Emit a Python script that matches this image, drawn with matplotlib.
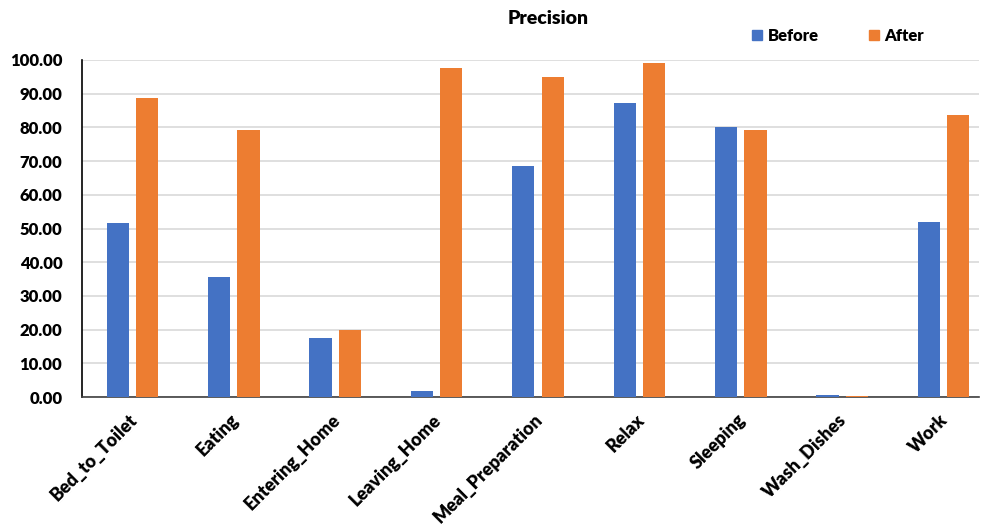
import numpy as np
import matplotlib.pyplot as plt
import matplotlib.transforms as mtransforms
from matplotlib.patches import Patch

plt.rcParams['font.family'] = ['Lato', 'DejaVu Sans']
plt.rcParams['font.weight'] = 'heavy'

activities = ['Bed_to_Toilet', 'Eating', 'Entering_Home', 'Leaving_Home',
              'Meal_Preparation', 'Relax', 'Sleeping', 'Wash_Dishes', 'Work']
before = [51.6, 35.6, 17.5, 1.8, 68.5, 87.2, 80.1, 0.5, 51.9]
after = [88.7, 79.2, 19.9, 97.6, 95.0, 99.1, 79.2, 0.4, 83.7]

blue = '#4472C4'
orange = '#ED7D31'

fig = plt.figure(figsize=(9.83, 5.26), dpi=100)
ax = fig.add_axes([81.8 / 983, 1 - 397 / 526, (979 - 81.8) / 983, 337 / 526])

x = np.arange(len(activities))
w = 0.22
off = 0.145
ax.bar(x - off, before, w, color=blue, zorder=3)
ax.bar(x + off, after, w, color=orange, zorder=3)

ax.set_xlim(-0.5, 8.35)
ax.set_ylim(0, 100)
ax.set_yticks(np.arange(0, 101, 10))
ax.set_yticklabels([f'{v:.2f}' for v in np.arange(0, 101, 10)], fontsize=12, fontweight='heavy')
ax.set_xticks(x)
ax.set_xticklabels(activities, rotation=45, ha='right', rotation_mode='anchor',
                   fontsize=13, fontweight='heavy')
ax.tick_params(axis='both', length=0)
ax.tick_params(axis='y', pad=14)
ax.tick_params(axis='x', pad=10)

# nudge rotated labels a little to the left
shift = mtransforms.ScaledTranslation(-4 / 100, 0, fig.dpi_scale_trans)
for lab in ax.get_xticklabels():
    lab.set_transform(lab.get_transform() + shift)

ax.grid(axis='y', color='#D9D9D9', linewidth=1.2, zorder=0)
for s in ['top', 'right']:
    ax.spines[s].set_visible(False)
ax.spines['left'].set_color('black')
ax.spines['left'].set_linewidth(1.2)
ax.spines['bottom'].set_color('#404040')
ax.spines['bottom'].set_linewidth(1.2)

fig.text(548 / 983, 1 - 19 / 526, 'Precision', ha='center', va='center',
         fontsize=14, fontweight='heavy')

handles = [Patch(color=blue, label='Before'), Patch(color=orange, label='After')]
fig.legend(handles=handles, loc='center left', bbox_to_anchor=(752 / 983, 1 - 36 / 526),
           ncol=2, frameon=False, handlelength=0.6, handleheight=0.6,
           handletextpad=0.35, columnspacing=3.0, borderpad=0, borderaxespad=0,
           prop={'weight': 'heavy', 'size': 12})

fig.savefig('out.png', dpi=100)
